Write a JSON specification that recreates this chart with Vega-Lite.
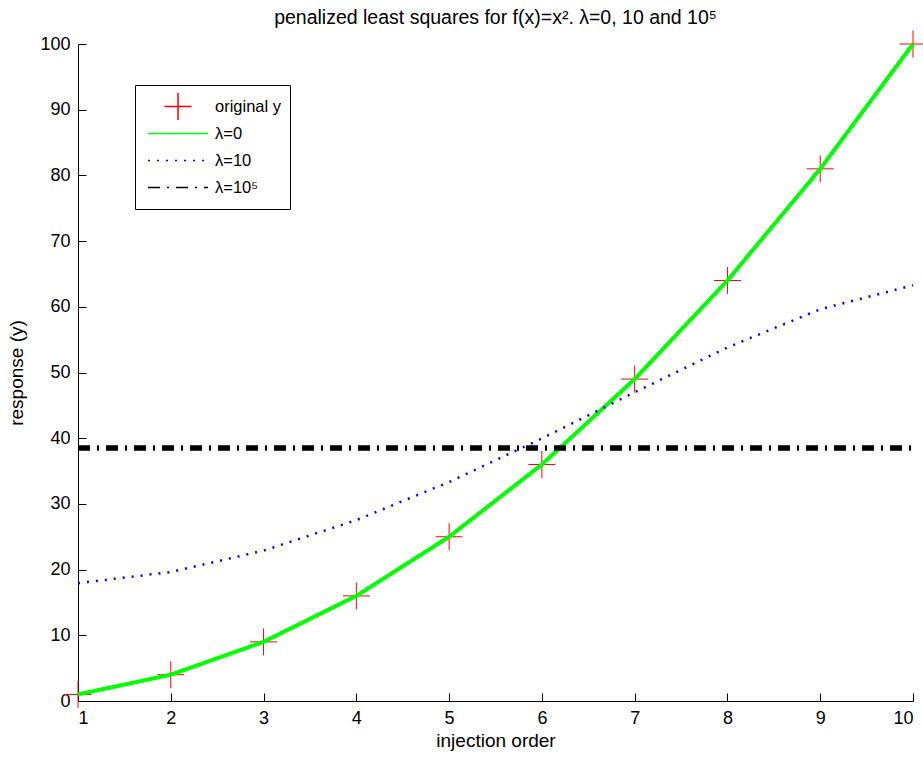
{
  "$schema": "https://vega.github.io/schema/vega-lite/v6.json",
  "width": 835,
  "height": 657,
  "autosize": {"type": "none"},
  "padding": {"left": 78, "top": 44, "right": 10, "bottom": 57},
  "background": "white",
  "title": {
    "text": "penalized least squares for f(x)=x². λ=0, 10 and 10⁵",
    "font": "Liberation Sans",
    "fontSize": 19.5,
    "fontWeight": "normal",
    "color": "black",
    "frame": "group",
    "anchor": "middle",
    "offset": 0
  },
  "data": {
    "values": [
      {"x": 1, "y": 1, "series": "original y"},
      {"x": 2, "y": 4, "series": "original y"},
      {"x": 3, "y": 9, "series": "original y"},
      {"x": 4, "y": 16, "series": "original y"},
      {"x": 5, "y": 25, "series": "original y"},
      {"x": 6, "y": 36, "series": "original y"},
      {"x": 7, "y": 49, "series": "original y"},
      {"x": 8, "y": 64, "series": "original y"},
      {"x": 9, "y": 81, "series": "original y"},
      {"x": 10, "y": 100, "series": "original y"},
      {"x": 1, "y": 1, "series": "λ=0"},
      {"x": 2, "y": 4, "series": "λ=0"},
      {"x": 3, "y": 9, "series": "λ=0"},
      {"x": 4, "y": 16, "series": "λ=0"},
      {"x": 5, "y": 25, "series": "λ=0"},
      {"x": 6, "y": 36, "series": "λ=0"},
      {"x": 7, "y": 49, "series": "λ=0"},
      {"x": 8, "y": 64, "series": "λ=0"},
      {"x": 9, "y": 81, "series": "λ=0"},
      {"x": 10, "y": 100, "series": "λ=0"},
      {"x": 1, "y": 17.94, "series": "λ=10"},
      {"x": 2, "y": 19.63, "series": "λ=10"},
      {"x": 3, "y": 22.89, "series": "λ=10"},
      {"x": 4, "y": 27.53, "series": "λ=10"},
      {"x": 5, "y": 33.33, "series": "λ=10"},
      {"x": 6, "y": 39.96, "series": "λ=10"},
      {"x": 7, "y": 46.99, "series": "λ=10"},
      {"x": 8, "y": 53.82, "series": "λ=10"},
      {"x": 9, "y": 59.62, "series": "λ=10"},
      {"x": 10, "y": 63.29, "series": "λ=10"},
      {"x": 1, "y": 38.5, "series": "λ=10⁵"},
      {"x": 2, "y": 38.5, "series": "λ=10⁵"},
      {"x": 3, "y": 38.5, "series": "λ=10⁵"},
      {"x": 4, "y": 38.5, "series": "λ=10⁵"},
      {"x": 5, "y": 38.5, "series": "λ=10⁵"},
      {"x": 6, "y": 38.5, "series": "λ=10⁵"},
      {"x": 7, "y": 38.5, "series": "λ=10⁵"},
      {"x": 8, "y": 38.5, "series": "λ=10⁵"},
      {"x": 9, "y": 38.5, "series": "λ=10⁵"},
      {"x": 10, "y": 38.5, "series": "λ=10⁵"}
    ]
  },
  "encoding": {
    "x": {
      "field": "x",
      "type": "quantitative",
      "scale": {"domain": [1, 10], "nice": false, "zero": false},
      "axis": {
        "title": "injection order",
        "values": [1, 2, 3, 4, 5, 6, 7, 8, 9, 10],
        "grid": false,
        "tickSize": -8,
        "labelPadding": 16,
        "titlePadding": 4
      }
    },
    "y": {
      "field": "y",
      "type": "quantitative",
      "scale": {"domain": [0, 100], "nice": false},
      "axis": {
        "title": "response (y)",
        "values": [0, 10, 20, 30, 40, 50, 60, 70, 80, 90, 100],
        "grid": false,
        "tickSize": -8,
        "labelPadding": 16,
        "titlePadding": 13
      }
    }
  },
  "layer": [
    {
      "transform": [{"filter": "datum.series === 'original y'"}],
      "mark": {"type": "point", "filled": false, "size": 3600, "opacity": 1, "clip": false},
      "encoding": {
        "color": {
          "field": "series",
          "type": "nominal",
          "scale": {"domain": ["original y", "λ=0", "λ=10", "λ=10⁵"], "range": ["#ff0000", "#00ff00", "#0000ff", "#000000"]},
          "legend": {
            "encode": {
              "symbols": {
                "update": {
                  "stroke": {"scale": "color", "field": "value"},
                  "fill": {"value": "transparent"},
                  "strokeWidth": {"scale": "strokeWidth", "field": "value"}
                }
              }
            }
          }
        },
        "shape": {"field": "series", "type": "nominal", "scale": {"domain": ["original y", "λ=0", "λ=10", "λ=10⁵"], "range": ["M-0.45,0H0.45M0,-0.45V0.45", "stroke", "stroke", "stroke"]}},
        "strokeWidth": {"field": "series", "type": "nominal", "legend": null, "scale": {"domain": ["original y", "λ=10", "λ=0", "λ=10⁵"], "range": [1, 5.5]}}
      }
    },
    {
      "transform": [{"filter": "datum.series !== 'original y'"}],
      "mark": {"type": "line"},
      "encoding": {
        "color": {"field": "series", "type": "nominal"},
        "strokeWidth": {"field": "series", "type": "nominal", "legend": null},
        "strokeDash": {"field": "series", "type": "nominal", "scale": {"domain": ["original y", "λ=0", "λ=10", "λ=10⁵"], "range": [[1, 0], [1, 0], [2, 7], [12, 7, 2, 7]]}}
      }
    }
  ],
  "config": {
    "font": "Liberation Sans",
    "view": {"stroke": null},
    "axis": {
      "domainColor": "black",
      "domainWidth": 1,
      "tickColor": "black",
      "tickWidth": 1,
      "labelColor": "black",
      "labelFont": "Liberation Sans",
      "labelFontSize": 18,
      "titleColor": "black",
      "titleFont": "Liberation Sans",
      "titleFontSize": 19,
      "titleFontWeight": "normal"
    },
    "legend": {
      "orient": "none",
      "legendX": 57,
      "legendY": 41,
      "title": null,
      "strokeColor": "black",
      "fillColor": "white",
      "padding": 8,
      "symbolOffset": 4,
      "clipHeight": 27,
      "labelFont": "Liberation Sans",
      "labelFontSize": 16.5,
      "labelColor": "black",
      "labelOffset": 6,
      "symbolSize": 3600,
      "rowPadding": 0
    }
  }
}
